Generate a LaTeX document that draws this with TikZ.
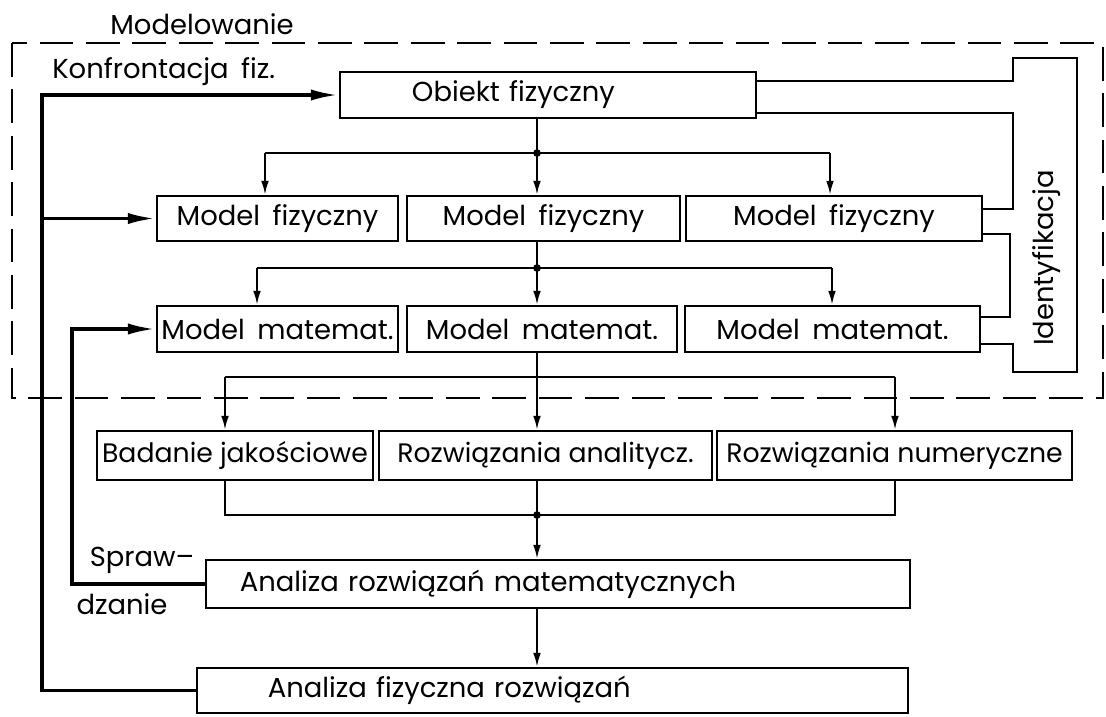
\documentclass[tikz,border=0pt]{standalone}
\usepackage{fontspec}
\setmainfont{Poppins}[WordSpace=1.7]
\newfontfamily\zwykly{Poppins}
\usetikzlibrary{arrows.meta, positioning, calc}

\begin{document}
\begin{tikzpicture}[
  x=0.025cm, y=-0.025cm,
  font=\fontsize{19.5}{22}\selectfont,
  blok/.style={draw, line width=1.5pt, minimum height=1.15cm, inner sep=0pt, align=center},
  ciasny/.style={font=\zwykly\fontsize{19}{21}\selectfont},
  lin/.style={line width=1.5pt},
  arr/.style={-{Latex[length=10pt,width=5.5pt]}, line width=1.5pt},
  fb/.style={-{Latex[length=20pt,width=8pt]}, line width=2.6pt},
  punkt/.style={circle, fill, inner sep=0pt, minimum size=5.5pt},
  ramka/.style={dash pattern=on 24pt off 9pt, line width=1.8pt},
  opis/.style={inner sep=0pt}
]
  \useasboundingbox (0,0) rectangle (1106,717);

  % bloki
  \node[blok, minimum width=10.4cm, align=left, inner xsep=1.8cm, text width=6.8cm] (obiekt) at (548,95) {Obiekt fizyczny};
  \node[blok, minimum width=6.025cm, minimum height=1.125cm] (fiz1) at (277.5,218.5) {Model fizyczny};
  \node[blok, minimum width=6.825cm, minimum height=1.125cm] (fiz2) at (543.5,218.5) {Model fizyczny};
  \node[blok, minimum width=7.4cm, minimum height=1.125cm] (fiz3) at (834,218.5) {Model fizyczny};
  \node[blok, minimum width=6.025cm] (mat1) at (277.5,329) {Model matemat.};
  \node[blok, minimum width=6.75cm] (mat2) at (542,329) {Model matemat.};
  \node[blok, minimum width=7.375cm] (mat3) at (832.5,329) {Model matemat.};
  \node[blok, ciasny, minimum width=6.9cm, minimum height=1.225cm] (bad) at (235,455.5) {Badanie jakościowe};
  \node[blok, ciasny, minimum width=8.325cm, minimum height=1.225cm] (ana) at (545.5,455.5) {Rozwiązania analitycz.};
  \node[blok, ciasny, minimum width=8.875cm, minimum height=1.225cm] (num) at (894.5,455.5) {Rozwiązania numeryczne};
  \node[blok, minimum height=1.2cm, align=left, inner xsep=0.85cm, text width=15.9cm] (anamat) at (558,584) {Analiza rozwiązań matematycznych};
  \node[blok, minimum height=1.125cm, align=left, inner xsep=1.775cm, text width=14.225cm] (anafiz) at (552.5,690.5) {Analiza fizyczna rozwiązań};

  % opisy
  \node[opis] (modelowanie) at (202,24) {Modelowanie};
  \node[opis, anchor=west] (konfr) at (52,72) {Konfrontacja fiz.};
  \node[opis] (spraw) at (142,560) {Spraw--};
  \node[opis] (dzanie) at (122,604) {dzanie};
  \node[opis, rotate=90] (ident) at (1047,258) {Identyfikacja};

  \coordinate (trunk) at (537,0);
  \coordinate (b1-l) at (265,153); \coordinate (b1-r) at (830,153);
  \coordinate (b2-l) at (257,268); \coordinate (b2-r) at (832,268);
  \coordinate (b3-l) at (225,377); \coordinate (b3-r) at (895,377);
  \coordinate (b4-l) at (225,515); \coordinate (b4-r) at (895,515);
  \coordinate (fb1) at (42,95);
  \coordinate (fb2) at (72,329);
  \coordinate (idl) at (1013,58);
  \coordinate (idr) at (1077,372);

  % obszar modelowania
  \draw[ramka] (12,43) rectangle (1103,398);

  % rozgalezienia
  \foreach \src/\bus/\a/\b/\c in {obiekt/b1/fiz1/fiz2/fiz3, fiz2/b2/mat1/mat2/mat3, mat2/b3/bad/ana/num} {
    \draw[lin] (trunk |- \src.south) -- (trunk |- \bus-l);
    \draw[lin] (\bus-l) -- (\bus-r);
    \draw[arr] (\bus-l) -- (\bus-l |- \a.north);
    \draw[arr] (trunk |- \bus-l) -- (trunk |- \b.north);
    \draw[arr] (\bus-r) -- (\bus-r |- \c.north);
  }
  \node[punkt] (p1) at (trunk |- b1-l) {};
  \node[punkt] (p2) at (trunk |- b2-l) {};

  \draw[lin] (bad.south -| b4-l) -- (b4-l) -- (b4-r) -- (num.south -| b4-r);
  \draw[lin] (trunk |- ana.south) -- (trunk |- b4-l);
  \node[punkt] (p4) at (trunk |- b4-l) {};
  \draw[arr] (trunk |- b4-l) -- (trunk |- anamat.north);
  \draw[arr] (trunk |- anamat.south) -- (trunk |- anafiz.north);

  % sprzezenia zwrotne
  \draw[fb] (anafiz.west) -| (fb1) -- (obiekt.west);
  \draw[fb] (fb1 |- fiz1.west) -- (fiz1.west);
  \draw[fb] (anamat.west) -| (fb2) -- (mat1.west);

  % identyfikacja
  \draw[lin] ($(obiekt.north east)+(0,10)$) -| (idl) -| (idr) -- (idl |- idr) |- ($(mat3.south east)+(0,-9)$);
  \draw[lin] ($(obiekt.south east)+(0,-6)$) -| ($(idl |- fiz3.north east)+(0,14)$) -- ($(fiz3.north east)+(0,14)$);
  \draw[lin] ($(fiz3.south east)+(0,-8)$) -| ($(idl |- mat3.north east)+(-3,12)$) -- ($(mat3.north east)+(0,12)$);
\end{tikzpicture}
\end{document}
